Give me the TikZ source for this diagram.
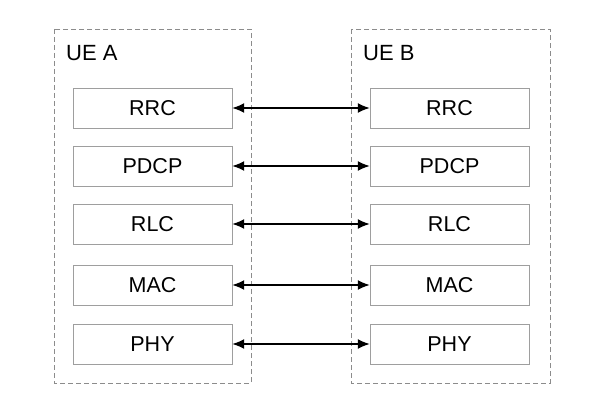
\documentclass[tikz,border=0pt]{standalone}
\usepackage{fontspec}
\setmainfont{Liberation Sans}
\usetikzlibrary{arrows.meta}

\tikzset{
  layerbox/.style={draw=black!38, minimum width=159pt, minimum height=40pt, inner sep=0pt, font=\fontsize{21.5}{24}\selectfont},
  uebox/.style={draw=black!45, dashed, dash pattern=on 5pt off 3pt},
  peer/.style={{Latex[length=12pt,width=10pt]}-{Latex[length=12pt,width=10pt]}, line width=1.6pt}
}

\begin{document}
\begin{tikzpicture}[x=1pt, y=-1pt]
  \useasboundingbox (0,0) rectangle (603,401);
  % UE frames
  \draw[uebox] (54,29) rectangle (251,383);
  \draw[uebox] (351,29) rectangle (550,383);
  \node[anchor=north west, inner sep=0pt, font=\fontsize{22}{26}\selectfont] (ueA) at (66,45) {UE A};
  \node[anchor=north west, inner sep=0pt, font=\fontsize{22}{26}\selectfont] (ueB) at (363,45) {UE B};
  % protocol layers
  \foreach \name/\y in {RRC/108, PDCP/166, RLC/224, MAC/285, PHY/344} {
    \node[layerbox] (a\name) at (152.5,\y) {\name};
    \node[layerbox] (b\name) at (449.5,\y) {\name};
    \draw[peer] (a\name) -- (b\name);
  }
\end{tikzpicture}
\end{document}
